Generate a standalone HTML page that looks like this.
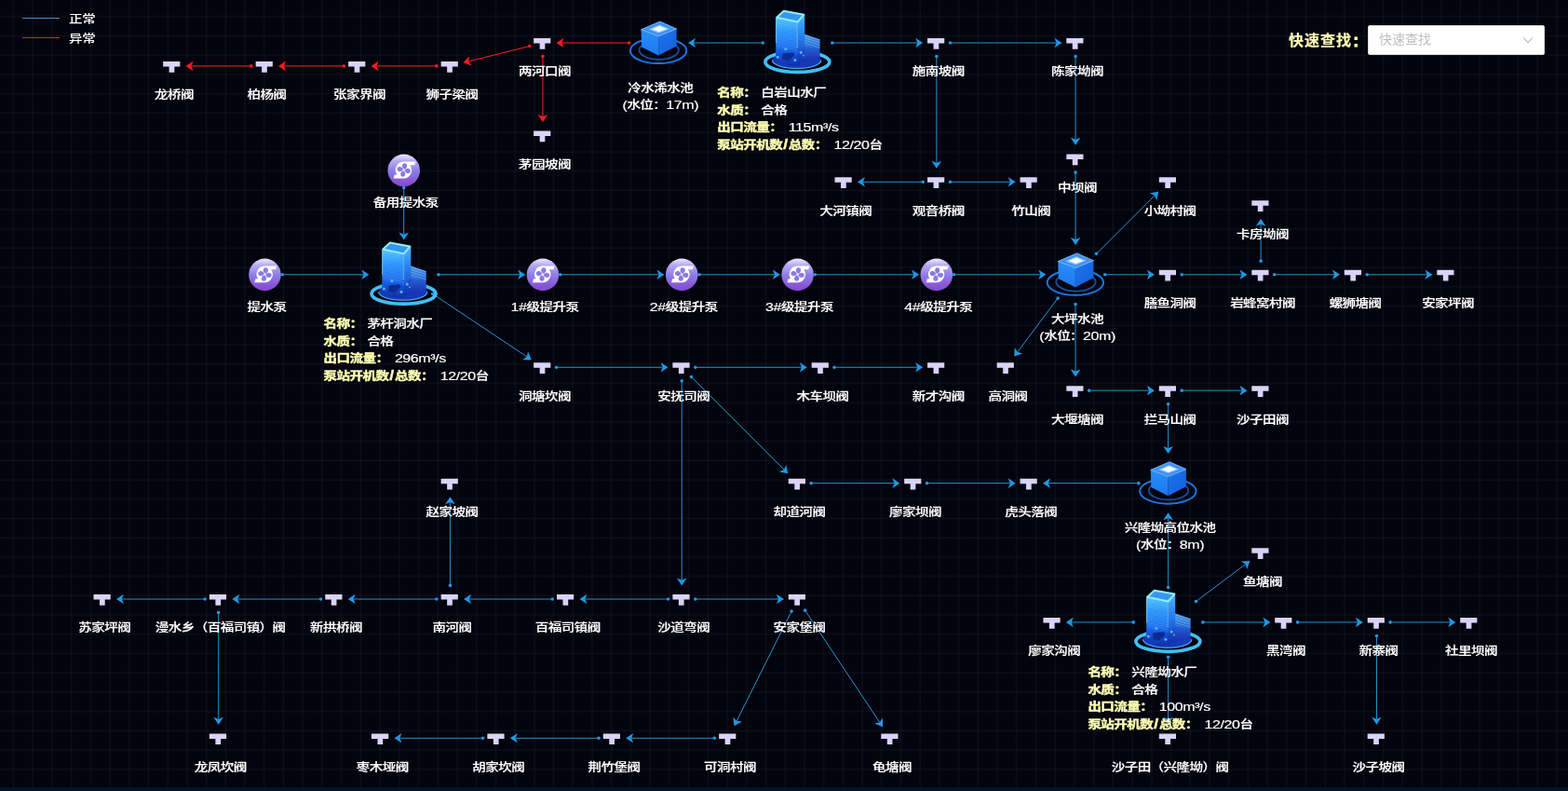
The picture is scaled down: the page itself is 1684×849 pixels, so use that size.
<!DOCTYPE html>
<html lang="zh-CN"><head><meta charset="utf-8"><title>供水管网拓扑</title>
<style>

html,body{margin:0;padding:0;}
body{width:1684px;height:849px;overflow:hidden;background:#03030d;font-family:"Liberation Sans","Noto Sans CJK SC",sans-serif;position:relative;}
#bg{position:absolute;left:0;top:0;width:1684px;height:849px;background-color:#03030d;
 background-image:linear-gradient(to right,rgba(140,185,215,0) 0,rgba(135,180,205,0.057) 1.1px,rgba(135,180,205,0.057) 1.5px,rgba(140,185,215,0) 2.6px),linear-gradient(to bottom,rgba(140,185,215,0) 0,rgba(135,180,205,0.057) 1.1px,rgba(135,180,205,0.057) 1.5px,rgba(140,185,215,0) 2.6px);
 background-size:20.73px 20.73px;background-position:13.17px 16.47px;}
#strip{position:absolute;left:0;top:845px;width:1684px;height:4px;background:#04142a;}
svg{position:absolute;left:0;top:0;}
#main,.legend,#qlabel,#qsel{will-change:transform;}
text{font-family:"Liberation Sans","Noto Sans CJK SC",sans-serif;font-size:14px;fill:#fff;font-weight:500;letter-spacing:-0.54px;stroke:#fff;stroke-width:0.2px;stroke-linejoin:round;}
.l{font-size:15.4px;letter-spacing:-0.4px;}
.s{font-size:17px;letter-spacing:0.7px;}
.k{fill:#ffffb4;font-weight:bold;stroke:#ffffb4;stroke-width:0.45px;}
.legend{position:absolute;left:24px;font-size:14px;font-weight:500;color:#fff;line-height:20px;height:20px;white-space:nowrap;}
.legend span{display:inline-block;transform:scale(1.04,0.875);transform-origin:0 58%;letter-spacing:-0.4px;}
.legend i{display:inline-block;width:40px;height:1px;vertical-align:middle;margin-right:10px;position:relative;top:-2px;}
#qlabel{position:absolute;left:1383.6px;top:28px;height:32px;line-height:31px;font-size:16px;font-weight:bold;color:#ffffb4;white-space:nowrap;letter-spacing:1px;-webkit-text-stroke:0.2px #ffffb4;}
#qsel{position:absolute;left:1469px;top:27px;width:190px;height:32px;box-sizing:border-box;background:#fff;border:1px solid #d9d9d9;border-radius:2px;font-size:14px;color:#bfbfbf;line-height:29px;padding-left:11px;white-space:nowrap;}
#qsel svg{position:absolute;left:165px;top:8.5px;}

</style></head><body>
<div id="bg"></div><div id="strip"></div>
<svg id="main" width="1684" height="849" viewBox="0 0 1684 849">
<defs>
<linearGradient id="gp" x1="0" y1="0" x2="0" y2="1">
<stop offset="0" stop-color="#eee9fd"/><stop offset="0.2" stop-color="#b9abf3"/><stop offset="0.5" stop-color="#8f7ee8"/><stop offset="0.78" stop-color="#8a5cda"/><stop offset="1" stop-color="#8248cc"/>
</linearGradient>
<linearGradient id="gt1" x1="0" y1="0" x2="0" y2="1">
<stop offset="0" stop-color="#52c2ff"/><stop offset="0.3" stop-color="#2690fc"/><stop offset="0.62" stop-color="#1a6cee"/><stop offset="0.82" stop-color="#1448cc"/><stop offset="1" stop-color="#0e30aa"/>
</linearGradient>
<linearGradient id="gt2" x1="0" y1="0" x2="0" y2="1">
<stop offset="0" stop-color="#46b4ff"/><stop offset="0.4" stop-color="#1f7cf2"/><stop offset="0.8" stop-color="#1444c8"/><stop offset="1" stop-color="#0d2ea4"/>
</linearGradient>
<linearGradient id="gt3" x1="0" y1="0" x2="0" y2="1">
<stop offset="0" stop-color="#4394ea"/><stop offset="0.45" stop-color="#2264d6"/><stop offset="1" stop-color="#1c2cae"/>
</linearGradient>
<linearGradient id="gw1" x1="0" y1="0" x2="0" y2="1">
<stop offset="0" stop-color="#2a8cf8"/><stop offset="1" stop-color="#1c7af0"/>
</linearGradient>
<linearGradient id="gw2" x1="0" y1="0" x2="1" y2="1">
<stop offset="0" stop-color="#1c74ea"/><stop offset="1" stop-color="#1560dc"/>
</linearGradient>
<pattern id="stripe" width="4" height="2.4" patternUnits="userSpaceOnUse" patternTransform="rotate(12)">
<rect x="0" y="0" width="4" height="1" fill="#9fe4ff" opacity="0.2"/>
</pattern>
<pattern id="stripe2" width="4" height="2.6" patternUnits="userSpaceOnUse" patternTransform="rotate(17)">
<rect x="0" y="0" width="4" height="1.1" fill="#b4e6ff" opacity="0.4"/>
</pattern>
</defs>
<g id="edges">
<line x1="675.62" y1="46" x2="603.54" y2="46" stroke="#ff2028" stroke-width="1" stroke-opacity="1"/>
<circle cx="675.62" cy="46" r="1.8" fill="#ff1a1e"/>
<path d="M0 0L-8 5.33L-6 0L-8 -5.33Z" fill="#ff1a1e" transform="translate(597.54 46) rotate(180)"/>
<line x1="568.78" y1="49.54" x2="503.42" y2="65.88" stroke="#ff2028" stroke-width="1" stroke-opacity="1"/>
<circle cx="568.78" cy="49.54" r="1.8" fill="#ff1a1e"/>
<path d="M0 0L-8 5.33L-6 0L-8 -5.33Z" fill="#ff1a1e" transform="translate(497.6 67.33) rotate(165.96)"/>
<line x1="468.84" y1="70.88" x2="404.54" y2="70.88" stroke="#ff2028" stroke-width="1" stroke-opacity="1"/>
<circle cx="468.84" cy="70.88" r="1.8" fill="#ff1a1e"/>
<path d="M0 0L-8 5.33L-6 0L-8 -5.33Z" fill="#ff1a1e" transform="translate(398.54 70.88) rotate(180)"/>
<line x1="369.34" y1="70.88" x2="305.03" y2="70.88" stroke="#ff2028" stroke-width="1" stroke-opacity="1"/>
<circle cx="369.34" cy="70.88" r="1.8" fill="#ff1a1e"/>
<path d="M0 0L-8 5.33L-6 0L-8 -5.33Z" fill="#ff1a1e" transform="translate(299.03 70.88) rotate(180)"/>
<line x1="269.83" y1="70.88" x2="205.53" y2="70.88" stroke="#ff2028" stroke-width="1" stroke-opacity="1"/>
<circle cx="269.83" cy="70.88" r="1.8" fill="#ff1a1e"/>
<path d="M0 0L-8 5.33L-6 0L-8 -5.33Z" fill="#ff1a1e" transform="translate(199.53 70.88) rotate(180)"/>
<line x1="582.94" y1="60.6" x2="582.94" y2="124.9" stroke="#ff2028" stroke-width="1" stroke-opacity="1"/>
<circle cx="582.94" cy="60.6" r="1.8" fill="#ff1a1e"/>
<path d="M0 0L-8 5.33L-6 0L-8 -5.33Z" fill="#ff1a1e" transform="translate(582.94 130.9) rotate(90)"/>
<line x1="819.28" y1="46" x2="745.02" y2="46" stroke="#2792d3" stroke-width="1" stroke-opacity="1"/>
<circle cx="819.28" cy="46" r="1.8" fill="#1f98e4"/>
<path d="M0 0L-8 5.33L-6 0L-8 -5.33Z" fill="#1f98e4" transform="translate(739.02 46) rotate(180)"/>
<line x1="893.88" y1="46" x2="985.24" y2="46" stroke="#2792d3" stroke-width="1" stroke-opacity="1"/>
<circle cx="893.88" cy="46" r="1.8" fill="#1f98e4"/>
<path d="M0 0L-8 5.33L-6 0L-8 -5.33Z" fill="#1f98e4" transform="translate(991.24 46) rotate(0)"/>
<line x1="1020.44" y1="46" x2="1134.49" y2="46" stroke="#2792d3" stroke-width="1" stroke-opacity="1"/>
<circle cx="1020.44" cy="46" r="1.8" fill="#1f98e4"/>
<path d="M0 0L-8 5.33L-6 0L-8 -5.33Z" fill="#1f98e4" transform="translate(1140.49 46) rotate(0)"/>
<line x1="1005.84" y1="60.6" x2="1005.84" y2="174.66" stroke="#2792d3" stroke-width="1" stroke-opacity="1"/>
<circle cx="1005.84" cy="60.6" r="1.8" fill="#1f98e4"/>
<path d="M0 0L-8 5.33L-6 0L-8 -5.33Z" fill="#1f98e4" transform="translate(1005.84 180.66) rotate(90)"/>
<line x1="991.24" y1="195.26" x2="926.93" y2="195.26" stroke="#2792d3" stroke-width="1" stroke-opacity="1"/>
<circle cx="991.24" cy="195.26" r="1.8" fill="#1f98e4"/>
<path d="M0 0L-8 5.33L-6 0L-8 -5.33Z" fill="#1f98e4" transform="translate(920.93 195.26) rotate(180)"/>
<line x1="1020.44" y1="195.26" x2="1084.74" y2="195.26" stroke="#2792d3" stroke-width="1" stroke-opacity="1"/>
<circle cx="1020.44" cy="195.26" r="1.8" fill="#1f98e4"/>
<path d="M0 0L-8 5.33L-6 0L-8 -5.33Z" fill="#1f98e4" transform="translate(1090.74 195.26) rotate(0)"/>
<line x1="1155.09" y1="60.6" x2="1155.09" y2="149.78" stroke="#2792d3" stroke-width="1" stroke-opacity="1"/>
<circle cx="1155.09" cy="60.6" r="1.8" fill="#1f98e4"/>
<path d="M0 0L-8 5.33L-6 0L-8 -5.33Z" fill="#1f98e4" transform="translate(1155.09 155.78) rotate(90)"/>
<line x1="1155.09" y1="184.98" x2="1155.09" y2="257.06" stroke="#2792d3" stroke-width="1" stroke-opacity="1"/>
<circle cx="1155.09" cy="184.98" r="1.8" fill="#1f98e4"/>
<path d="M0 0L-8 5.33L-6 0L-8 -5.33Z" fill="#1f98e4" transform="translate(1155.09 263.06) rotate(90)"/>
<line x1="433.69" y1="201.52" x2="433.69" y2="251.46" stroke="#2792d3" stroke-width="1" stroke-opacity="1"/>
<circle cx="433.69" cy="201.52" r="1.8" fill="#1f98e4"/>
<path d="M0 0L-8 5.33L-6 0L-8 -5.33Z" fill="#1f98e4" transform="translate(433.69 257.46) rotate(90)"/>
<line x1="303.13" y1="294.76" x2="390.39" y2="294.76" stroke="#2792d3" stroke-width="1" stroke-opacity="1"/>
<circle cx="303.13" cy="294.76" r="1.8" fill="#1f98e4"/>
<path d="M0 0L-8 5.33L-6 0L-8 -5.33Z" fill="#1f98e4" transform="translate(396.39 294.76) rotate(0)"/>
<line x1="470.99" y1="294.76" x2="558.24" y2="294.76" stroke="#2792d3" stroke-width="1" stroke-opacity="1"/>
<circle cx="470.99" cy="294.76" r="1.8" fill="#1f98e4"/>
<path d="M0 0L-8 5.33L-6 0L-8 -5.33Z" fill="#1f98e4" transform="translate(564.24 294.76) rotate(0)"/>
<line x1="601.64" y1="294.76" x2="707.5" y2="294.76" stroke="#2792d3" stroke-width="1" stroke-opacity="1"/>
<circle cx="601.64" cy="294.76" r="1.8" fill="#1f98e4"/>
<path d="M0 0L-8 5.33L-6 0L-8 -5.33Z" fill="#1f98e4" transform="translate(713.5 294.76) rotate(0)"/>
<line x1="750.9" y1="294.76" x2="831.88" y2="294.76" stroke="#2792d3" stroke-width="1" stroke-opacity="1"/>
<circle cx="750.9" cy="294.76" r="1.8" fill="#1f98e4"/>
<path d="M0 0L-8 5.33L-6 0L-8 -5.33Z" fill="#1f98e4" transform="translate(837.88 294.76) rotate(0)"/>
<line x1="875.28" y1="294.76" x2="981.14" y2="294.76" stroke="#2792d3" stroke-width="1" stroke-opacity="1"/>
<circle cx="875.28" cy="294.76" r="1.8" fill="#1f98e4"/>
<path d="M0 0L-8 5.33L-6 0L-8 -5.33Z" fill="#1f98e4" transform="translate(987.14 294.76) rotate(0)"/>
<line x1="1024.54" y1="294.76" x2="1117.39" y2="294.76" stroke="#2792d3" stroke-width="1" stroke-opacity="1"/>
<circle cx="1024.54" cy="294.76" r="1.8" fill="#1f98e4"/>
<path d="M0 0L-8 5.33L-6 0L-8 -5.33Z" fill="#1f98e4" transform="translate(1123.39 294.76) rotate(0)"/>
<line x1="464.72" y1="315.45" x2="565.8" y2="382.84" stroke="#2792d3" stroke-width="1" stroke-opacity="1"/>
<circle cx="464.72" cy="315.45" r="1.8" fill="#1f98e4"/>
<path d="M0 0L-8 5.33L-6 0L-8 -5.33Z" fill="#1f98e4" transform="translate(570.8 386.17) rotate(33.69)"/>
<line x1="597.54" y1="394.26" x2="711.6" y2="394.26" stroke="#2792d3" stroke-width="1" stroke-opacity="1"/>
<circle cx="597.54" cy="394.26" r="1.8" fill="#1f98e4"/>
<path d="M0 0L-8 5.33L-6 0L-8 -5.33Z" fill="#1f98e4" transform="translate(717.6 394.26) rotate(0)"/>
<line x1="746.8" y1="394.26" x2="860.86" y2="394.26" stroke="#2792d3" stroke-width="1" stroke-opacity="1"/>
<circle cx="746.8" cy="394.26" r="1.8" fill="#1f98e4"/>
<path d="M0 0L-8 5.33L-6 0L-8 -5.33Z" fill="#1f98e4" transform="translate(866.86 394.26) rotate(0)"/>
<line x1="896.06" y1="394.26" x2="985.24" y2="394.26" stroke="#2792d3" stroke-width="1" stroke-opacity="1"/>
<circle cx="896.06" cy="394.26" r="1.8" fill="#1f98e4"/>
<path d="M0 0L-8 5.33L-6 0L-8 -5.33Z" fill="#1f98e4" transform="translate(991.24 394.26) rotate(0)"/>
<line x1="732.2" y1="408.86" x2="732.2" y2="622.42" stroke="#2792d3" stroke-width="1" stroke-opacity="1"/>
<circle cx="732.2" cy="408.86" r="1.8" fill="#1f98e4"/>
<path d="M0 0L-8 5.33L-6 0L-8 -5.33Z" fill="#1f98e4" transform="translate(732.2 628.42) rotate(90)"/>
<line x1="742.52" y1="404.59" x2="842.01" y2="504.08" stroke="#2792d3" stroke-width="1" stroke-opacity="1"/>
<circle cx="742.52" cy="404.59" r="1.8" fill="#1f98e4"/>
<path d="M0 0L-8 5.33L-6 0L-8 -5.33Z" fill="#1f98e4" transform="translate(846.26 508.32) rotate(45)"/>
<line x1="871.18" y1="518.64" x2="960.36" y2="518.64" stroke="#2792d3" stroke-width="1" stroke-opacity="1"/>
<circle cx="871.18" cy="518.64" r="1.8" fill="#1f98e4"/>
<path d="M0 0L-8 5.33L-6 0L-8 -5.33Z" fill="#1f98e4" transform="translate(966.36 518.64) rotate(0)"/>
<line x1="995.56" y1="518.64" x2="1084.74" y2="518.64" stroke="#2792d3" stroke-width="1" stroke-opacity="1"/>
<circle cx="995.56" cy="518.64" r="1.8" fill="#1f98e4"/>
<path d="M0 0L-8 5.33L-6 0L-8 -5.33Z" fill="#1f98e4" transform="translate(1090.74 518.64) rotate(0)"/>
<line x1="1222.9" y1="518.64" x2="1125.94" y2="518.64" stroke="#2792d3" stroke-width="1" stroke-opacity="1"/>
<circle cx="1222.9" cy="518.64" r="1.8" fill="#1f98e4"/>
<path d="M0 0L-8 5.33L-6 0L-8 -5.33Z" fill="#1f98e4" transform="translate(1119.94 518.64) rotate(180)"/>
<line x1="1177.51" y1="272.34" x2="1240.03" y2="209.82" stroke="#2792d3" stroke-width="1" stroke-opacity="1"/>
<circle cx="1177.51" cy="272.34" r="1.8" fill="#1f98e4"/>
<path d="M0 0L-8 5.33L-6 0L-8 -5.33Z" fill="#1f98e4" transform="translate(1244.27 205.58) rotate(-45)"/>
<line x1="1186.79" y1="294.76" x2="1234" y2="294.76" stroke="#2792d3" stroke-width="1" stroke-opacity="1"/>
<circle cx="1186.79" cy="294.76" r="1.8" fill="#1f98e4"/>
<path d="M0 0L-8 5.33L-6 0L-8 -5.33Z" fill="#1f98e4" transform="translate(1240 294.76) rotate(0)"/>
<line x1="1269.2" y1="294.76" x2="1333.5" y2="294.76" stroke="#2792d3" stroke-width="1" stroke-opacity="1"/>
<circle cx="1269.2" cy="294.76" r="1.8" fill="#1f98e4"/>
<path d="M0 0L-8 5.33L-6 0L-8 -5.33Z" fill="#1f98e4" transform="translate(1339.5 294.76) rotate(0)"/>
<line x1="1354.1" y1="280.16" x2="1354.1" y2="240.73" stroke="#2792d3" stroke-width="1" stroke-opacity="1"/>
<circle cx="1354.1" cy="280.16" r="1.8" fill="#1f98e4"/>
<path d="M0 0L-8 5.33L-6 0L-8 -5.33Z" fill="#1f98e4" transform="translate(1354.1 234.73) rotate(-90)"/>
<line x1="1368.7" y1="294.76" x2="1433" y2="294.76" stroke="#2792d3" stroke-width="1" stroke-opacity="1"/>
<circle cx="1368.7" cy="294.76" r="1.8" fill="#1f98e4"/>
<path d="M0 0L-8 5.33L-6 0L-8 -5.33Z" fill="#1f98e4" transform="translate(1439 294.76) rotate(0)"/>
<line x1="1468.2" y1="294.76" x2="1532.51" y2="294.76" stroke="#2792d3" stroke-width="1" stroke-opacity="1"/>
<circle cx="1468.2" cy="294.76" r="1.8" fill="#1f98e4"/>
<path d="M0 0L-8 5.33L-6 0L-8 -5.33Z" fill="#1f98e4" transform="translate(1538.51 294.76) rotate(0)"/>
<line x1="1136.07" y1="320.12" x2="1092.82" y2="377.78" stroke="#2792d3" stroke-width="1" stroke-opacity="1"/>
<circle cx="1136.07" cy="320.12" r="1.8" fill="#1f98e4"/>
<path d="M0 0L-8 5.33L-6 0L-8 -5.33Z" fill="#1f98e4" transform="translate(1089.22 382.58) rotate(126.87)"/>
<line x1="1155.09" y1="326.46" x2="1155.09" y2="398.54" stroke="#2792d3" stroke-width="1" stroke-opacity="1"/>
<circle cx="1155.09" cy="326.46" r="1.8" fill="#1f98e4"/>
<path d="M0 0L-8 5.33L-6 0L-8 -5.33Z" fill="#1f98e4" transform="translate(1155.09 404.54) rotate(90)"/>
<line x1="1169.69" y1="419.14" x2="1234" y2="419.14" stroke="#2792d3" stroke-width="1" stroke-opacity="1"/>
<circle cx="1169.69" cy="419.14" r="1.8" fill="#1f98e4"/>
<path d="M0 0L-8 5.33L-6 0L-8 -5.33Z" fill="#1f98e4" transform="translate(1240 419.14) rotate(0)"/>
<line x1="1269.2" y1="419.14" x2="1333.5" y2="419.14" stroke="#2792d3" stroke-width="1" stroke-opacity="1"/>
<circle cx="1269.2" cy="419.14" r="1.8" fill="#1f98e4"/>
<path d="M0 0L-8 5.33L-6 0L-8 -5.33Z" fill="#1f98e4" transform="translate(1339.5 419.14) rotate(0)"/>
<line x1="1254.6" y1="433.74" x2="1254.6" y2="480.94" stroke="#2792d3" stroke-width="1" stroke-opacity="1"/>
<circle cx="1254.6" cy="433.74" r="1.8" fill="#1f98e4"/>
<path d="M0 0L-8 5.33L-6 0L-8 -5.33Z" fill="#1f98e4" transform="translate(1254.6 486.94) rotate(90)"/>
<line x1="1254.6" y1="630.6" x2="1254.6" y2="556.34" stroke="#2792d3" stroke-width="1" stroke-opacity="1"/>
<circle cx="1254.6" cy="630.6" r="1.8" fill="#1f98e4"/>
<path d="M0 0L-8 5.33L-6 0L-8 -5.33Z" fill="#1f98e4" transform="translate(1254.6 550.34) rotate(-90)"/>
<line x1="1284.44" y1="645.52" x2="1337.62" y2="605.63" stroke="#2792d3" stroke-width="1" stroke-opacity="1"/>
<circle cx="1284.44" cy="645.52" r="1.8" fill="#1f98e4"/>
<path d="M0 0L-8 5.33L-6 0L-8 -5.33Z" fill="#1f98e4" transform="translate(1342.42 602.03) rotate(-36.87)"/>
<line x1="1217.3" y1="667.9" x2="1150.82" y2="667.9" stroke="#2792d3" stroke-width="1" stroke-opacity="1"/>
<circle cx="1217.3" cy="667.9" r="1.8" fill="#1f98e4"/>
<path d="M0 0L-8 5.33L-6 0L-8 -5.33Z" fill="#1f98e4" transform="translate(1144.82 667.9) rotate(180)"/>
<line x1="1291.9" y1="667.9" x2="1358.38" y2="667.9" stroke="#2792d3" stroke-width="1" stroke-opacity="1"/>
<circle cx="1291.9" cy="667.9" r="1.8" fill="#1f98e4"/>
<path d="M0 0L-8 5.33L-6 0L-8 -5.33Z" fill="#1f98e4" transform="translate(1364.38 667.9) rotate(0)"/>
<line x1="1393.58" y1="667.9" x2="1457.88" y2="667.9" stroke="#2792d3" stroke-width="1" stroke-opacity="1"/>
<circle cx="1393.58" cy="667.9" r="1.8" fill="#1f98e4"/>
<path d="M0 0L-8 5.33L-6 0L-8 -5.33Z" fill="#1f98e4" transform="translate(1463.88 667.9) rotate(0)"/>
<line x1="1493.08" y1="667.9" x2="1557.38" y2="667.9" stroke="#2792d3" stroke-width="1" stroke-opacity="1"/>
<circle cx="1493.08" cy="667.9" r="1.8" fill="#1f98e4"/>
<path d="M0 0L-8 5.33L-6 0L-8 -5.33Z" fill="#1f98e4" transform="translate(1563.38 667.9) rotate(0)"/>
<line x1="1478.48" y1="682.5" x2="1478.48" y2="771.68" stroke="#2792d3" stroke-width="1" stroke-opacity="1"/>
<circle cx="1478.48" cy="682.5" r="1.8" fill="#1f98e4"/>
<path d="M0 0L-8 5.33L-6 0L-8 -5.33Z" fill="#1f98e4" transform="translate(1478.48 777.68) rotate(90)"/>
<line x1="1254.6" y1="705.2" x2="1254.6" y2="771.68" stroke="#2792d3" stroke-width="1" stroke-opacity="1"/>
<circle cx="1254.6" cy="705.2" r="1.8" fill="#1f98e4"/>
<path d="M0 0L-8 5.33L-6 0L-8 -5.33Z" fill="#1f98e4" transform="translate(1254.6 777.68) rotate(90)"/>
<line x1="717.6" y1="643.02" x2="628.42" y2="643.02" stroke="#2792d3" stroke-width="1" stroke-opacity="1"/>
<circle cx="717.6" cy="643.02" r="1.8" fill="#1f98e4"/>
<path d="M0 0L-8 5.33L-6 0L-8 -5.33Z" fill="#1f98e4" transform="translate(622.42 643.02) rotate(180)"/>
<line x1="593.22" y1="643.02" x2="504.04" y2="643.02" stroke="#2792d3" stroke-width="1" stroke-opacity="1"/>
<circle cx="593.22" cy="643.02" r="1.8" fill="#1f98e4"/>
<path d="M0 0L-8 5.33L-6 0L-8 -5.33Z" fill="#1f98e4" transform="translate(498.04 643.02) rotate(180)"/>
<line x1="468.84" y1="643.02" x2="379.66" y2="643.02" stroke="#2792d3" stroke-width="1" stroke-opacity="1"/>
<circle cx="468.84" cy="643.02" r="1.8" fill="#1f98e4"/>
<path d="M0 0L-8 5.33L-6 0L-8 -5.33Z" fill="#1f98e4" transform="translate(373.66 643.02) rotate(180)"/>
<line x1="344.46" y1="643.02" x2="255.28" y2="643.02" stroke="#2792d3" stroke-width="1" stroke-opacity="1"/>
<circle cx="344.46" cy="643.02" r="1.8" fill="#1f98e4"/>
<path d="M0 0L-8 5.33L-6 0L-8 -5.33Z" fill="#1f98e4" transform="translate(249.28 643.02) rotate(180)"/>
<line x1="220.08" y1="643.02" x2="130.9" y2="643.02" stroke="#2792d3" stroke-width="1" stroke-opacity="1"/>
<circle cx="220.08" cy="643.02" r="1.8" fill="#1f98e4"/>
<path d="M0 0L-8 5.33L-6 0L-8 -5.33Z" fill="#1f98e4" transform="translate(124.9 643.02) rotate(180)"/>
<line x1="234.68" y1="657.62" x2="234.68" y2="771.68" stroke="#2792d3" stroke-width="1" stroke-opacity="1"/>
<circle cx="234.68" cy="657.62" r="1.8" fill="#1f98e4"/>
<path d="M0 0L-8 5.33L-6 0L-8 -5.33Z" fill="#1f98e4" transform="translate(234.68 777.68) rotate(90)"/>
<line x1="483.44" y1="628.42" x2="483.44" y2="539.24" stroke="#2792d3" stroke-width="1" stroke-opacity="1"/>
<circle cx="483.44" cy="628.42" r="1.8" fill="#1f98e4"/>
<path d="M0 0L-8 5.33L-6 0L-8 -5.33Z" fill="#1f98e4" transform="translate(483.44 533.24) rotate(-90)"/>
<line x1="746.8" y1="643.02" x2="835.98" y2="643.02" stroke="#2792d3" stroke-width="1" stroke-opacity="1"/>
<circle cx="746.8" cy="643.02" r="1.8" fill="#1f98e4"/>
<path d="M0 0L-8 5.33L-6 0L-8 -5.33Z" fill="#1f98e4" transform="translate(841.98 643.02) rotate(0)"/>
<line x1="850.05" y1="656.08" x2="791.16" y2="773.85" stroke="#2792d3" stroke-width="1" stroke-opacity="1"/>
<circle cx="850.05" cy="656.08" r="1.8" fill="#1f98e4"/>
<path d="M0 0L-8 5.33L-6 0L-8 -5.33Z" fill="#1f98e4" transform="translate(788.48 779.22) rotate(116.57)"/>
<line x1="864.68" y1="655.17" x2="944.66" y2="775.14" stroke="#2792d3" stroke-width="1" stroke-opacity="1"/>
<circle cx="864.68" cy="655.17" r="1.8" fill="#1f98e4"/>
<path d="M0 0L-8 5.33L-6 0L-8 -5.33Z" fill="#1f98e4" transform="translate(947.99 780.13) rotate(56.31)"/>
<line x1="767.35" y1="792.28" x2="678.17" y2="792.28" stroke="#2792d3" stroke-width="1" stroke-opacity="1"/>
<circle cx="767.35" cy="792.28" r="1.8" fill="#1f98e4"/>
<path d="M0 0L-8 5.33L-6 0L-8 -5.33Z" fill="#1f98e4" transform="translate(672.17 792.28) rotate(180)"/>
<line x1="642.97" y1="792.28" x2="553.79" y2="792.28" stroke="#2792d3" stroke-width="1" stroke-opacity="1"/>
<circle cx="642.97" cy="792.28" r="1.8" fill="#1f98e4"/>
<path d="M0 0L-8 5.33L-6 0L-8 -5.33Z" fill="#1f98e4" transform="translate(547.79 792.28) rotate(180)"/>
<line x1="518.59" y1="792.28" x2="429.41" y2="792.28" stroke="#2792d3" stroke-width="1" stroke-opacity="1"/>
<circle cx="518.59" cy="792.28" r="1.8" fill="#1f98e4"/>
<path d="M0 0L-8 5.33L-6 0L-8 -5.33Z" fill="#1f98e4" transform="translate(423.41 792.28) rotate(180)"/>
</g>
<g id="nodes">
<g class="n-v" transform="translate(582.94 46)"><path d="M-9.8 -4.9H8.4V0.6H2.4V6.8H-3.3V0.6H-9.8Z" fill="#d9d3f8"/></g>
<g class="n-w" transform="translate(707.32 46)"><ellipse cx="-0.2" cy="8.5" rx="30.2" ry="13.5" fill="none" stroke="#1b78e2" stroke-width="2"/><ellipse cx="0.4" cy="7.8" rx="21.2" ry="10" fill="none" stroke="#164f9e" stroke-width="1.8"/><path d="M-18.8 -14.2L-0.2 -7.1L-0.2 13.5L-18.3 4.4Z" fill="url(#gw1)"/><path d="M-0.2 -7.1L19.3 -15L19.3 3.6L-0.2 13.5Z" fill="url(#gw2)"/><path d="M1.4 -22.9L19.3 -15L-0.2 -7.1L-18.8 -14.2Z" fill="#3f92f6" stroke="#7fbcff" stroke-width="0.9" stroke-linejoin="round"/><path d="M1 -19.6L11.6 -15L0.2 -10.6L-10.6 -14.6Z" fill="#8fc6ff"/><path d="M0.9 -18.3L8.6 -15L0.4 -11.8L-7.4 -14.7Z" fill="#f2fcff"/></g>
<g class="n-f" transform="translate(856.58 46)"><ellipse cx="-0.9" cy="18.4" rx="26.2" ry="9" fill="#1239b6"/><path d="M-27.1 18.4A26.2 9 0 0 0 25.3 18.4" fill="none" stroke="#4aa2f0" stroke-width="1.3"/><ellipse cx="-0.2" cy="20.5" rx="34.5" ry="10.9" fill="none" stroke="#42bef5" stroke-width="3.7"/><path d="M7.4 -9.6L24 -3.8V16L7.4 20.5Z" fill="url(#gt3)"/><path d="M7.4 -9.6L24 -3.8V7L7.4 3Z" fill="url(#stripe2)"/><path d="M-23.4 -27L0 -22.2V24L-10 24.5L-23.4 17Z" fill="url(#gt1)"/><path d="M0 -22.2L7.6 -30.2V19L0 24Z" fill="url(#gt2)"/><path d="M-23.4 -27L0 -22.2V10L-23.4 5Z" fill="url(#stripe)"/><path d="M0 -22.2L7.6 -30.2V4L0 10Z" fill="url(#stripe)" opacity="0.7"/><path d="M-22.4 -27.2L-14.8 -34.2L6.8 -30.3L0 -22.4Z" fill="#3597f2" stroke="#92ecff" stroke-width="2" stroke-linejoin="round"/><path d="M-23 -27V0" stroke="#7fe0ff" stroke-width="1" opacity="0.75" fill="none"/><path d="M-0.2 -22V6" stroke="#7fd8ff" stroke-width="1.4" opacity="0.5" fill="none"/><path d="M-16 11.5L-4.8 10.4L-3.2 13.1L-9.6 19.4L-16.5 17.8Z" fill="#0d2a8e"/><circle cx="-12.8" cy="6.7" r="1.5" fill="#5fb0ff"/><circle cx="-21.3" cy="15.2" r="1.5" fill="#5fb0ff"/><circle cx="-2.7" cy="18.4" r="1.5" fill="#5fb0ff"/><circle cx="3.6" cy="10.2" r="1.5" fill="#5fb0ff"/><circle cx="6.3" cy="13.6" r="0.9" fill="#8fc44a"/></g>
<g class="n-v" transform="translate(1005.84 46)"><path d="M-9.8 -4.9H8.4V0.6H2.4V6.8H-3.3V0.6H-9.8Z" fill="#d9d3f8"/></g>
<g class="n-v" transform="translate(1155.09 46)"><path d="M-9.8 -4.9H8.4V0.6H2.4V6.8H-3.3V0.6H-9.8Z" fill="#d9d3f8"/></g>
<g class="n-v" transform="translate(184.93 70.88)"><path d="M-9.8 -4.9H8.4V0.6H2.4V6.8H-3.3V0.6H-9.8Z" fill="#d9d3f8"/></g>
<g class="n-v" transform="translate(284.43 70.88)"><path d="M-9.8 -4.9H8.4V0.6H2.4V6.8H-3.3V0.6H-9.8Z" fill="#d9d3f8"/></g>
<g class="n-v" transform="translate(383.94 70.88)"><path d="M-9.8 -4.9H8.4V0.6H2.4V6.8H-3.3V0.6H-9.8Z" fill="#d9d3f8"/></g>
<g class="n-v" transform="translate(483.44 70.88)"><path d="M-9.8 -4.9H8.4V0.6H2.4V6.8H-3.3V0.6H-9.8Z" fill="#d9d3f8"/></g>
<g class="n-v" transform="translate(582.94 145.5)"><path d="M-9.8 -4.9H8.4V0.6H2.4V6.8H-3.3V0.6H-9.8Z" fill="#d9d3f8"/></g>
<g class="n-v" transform="translate(1155.09 170.38)"><path d="M-9.8 -4.9H8.4V0.6H2.4V6.8H-3.3V0.6H-9.8Z" fill="#d9d3f8"/></g>
<g class="n-p" transform="translate(433.69 182.82)"><circle cx="0" cy="0.1" r="17.3" fill="url(#gp)"/><path d="M-0.4 -9.2H12.7L11.6 -5.6H6.6A8.9 8.9 0 0 1 0.4 8.6H-11.1L-10 4.6H-7.4A8.9 8.9 0 0 1 -0.4 -9.2Z" fill="#fff"/><g fill="#8b78e6"><path d="M0.5 -1C-1.8 -2.6 -2.6 -5.4 -0.6 -7C1.6 -8.4 4.2 -6.6 3.4 -3.8C3 -2.4 1.8 -1.4 0.5 -1Z"/><path d="M0.5 -1C-1.8 -2.6 -2.6 -5.4 -0.6 -7C1.6 -8.4 4.2 -6.6 3.4 -3.8C3 -2.4 1.8 -1.4 0.5 -1Z" transform="rotate(90 0 -0.3)"/><path d="M0.5 -1C-1.8 -2.6 -2.6 -5.4 -0.6 -7C1.6 -8.4 4.2 -6.6 3.4 -3.8C3 -2.4 1.8 -1.4 0.5 -1Z" transform="rotate(180 0 -0.3)"/><path d="M0.5 -1C-1.8 -2.6 -2.6 -5.4 -0.6 -7C1.6 -8.4 4.2 -6.6 3.4 -3.8C3 -2.4 1.8 -1.4 0.5 -1Z" transform="rotate(270 0 -0.3)"/></g></g>
<g class="n-v" transform="translate(906.33 195.26)"><path d="M-9.8 -4.9H8.4V0.6H2.4V6.8H-3.3V0.6H-9.8Z" fill="#d9d3f8"/></g>
<g class="n-v" transform="translate(1005.84 195.26)"><path d="M-9.8 -4.9H8.4V0.6H2.4V6.8H-3.3V0.6H-9.8Z" fill="#d9d3f8"/></g>
<g class="n-v" transform="translate(1105.34 195.26)"><path d="M-9.8 -4.9H8.4V0.6H2.4V6.8H-3.3V0.6H-9.8Z" fill="#d9d3f8"/></g>
<g class="n-v" transform="translate(1254.6 195.26)"><path d="M-9.8 -4.9H8.4V0.6H2.4V6.8H-3.3V0.6H-9.8Z" fill="#d9d3f8"/></g>
<g class="n-v" transform="translate(1354.1 220.13)"><path d="M-9.8 -4.9H8.4V0.6H2.4V6.8H-3.3V0.6H-9.8Z" fill="#d9d3f8"/></g>
<g class="n-p" transform="translate(284.43 294.76)"><circle cx="0" cy="0.1" r="17.3" fill="url(#gp)"/><path d="M-0.4 -9.2H12.7L11.6 -5.6H6.6A8.9 8.9 0 0 1 0.4 8.6H-11.1L-10 4.6H-7.4A8.9 8.9 0 0 1 -0.4 -9.2Z" fill="#fff"/><g fill="#8b78e6"><path d="M0.5 -1C-1.8 -2.6 -2.6 -5.4 -0.6 -7C1.6 -8.4 4.2 -6.6 3.4 -3.8C3 -2.4 1.8 -1.4 0.5 -1Z"/><path d="M0.5 -1C-1.8 -2.6 -2.6 -5.4 -0.6 -7C1.6 -8.4 4.2 -6.6 3.4 -3.8C3 -2.4 1.8 -1.4 0.5 -1Z" transform="rotate(90 0 -0.3)"/><path d="M0.5 -1C-1.8 -2.6 -2.6 -5.4 -0.6 -7C1.6 -8.4 4.2 -6.6 3.4 -3.8C3 -2.4 1.8 -1.4 0.5 -1Z" transform="rotate(180 0 -0.3)"/><path d="M0.5 -1C-1.8 -2.6 -2.6 -5.4 -0.6 -7C1.6 -8.4 4.2 -6.6 3.4 -3.8C3 -2.4 1.8 -1.4 0.5 -1Z" transform="rotate(270 0 -0.3)"/></g></g>
<g class="n-f" transform="translate(433.69 294.76)"><ellipse cx="-0.9" cy="18.4" rx="26.2" ry="9" fill="#1239b6"/><path d="M-27.1 18.4A26.2 9 0 0 0 25.3 18.4" fill="none" stroke="#4aa2f0" stroke-width="1.3"/><ellipse cx="-0.2" cy="20.5" rx="34.5" ry="10.9" fill="none" stroke="#42bef5" stroke-width="3.7"/><path d="M7.4 -9.6L24 -3.8V16L7.4 20.5Z" fill="url(#gt3)"/><path d="M7.4 -9.6L24 -3.8V7L7.4 3Z" fill="url(#stripe2)"/><path d="M-23.4 -27L0 -22.2V24L-10 24.5L-23.4 17Z" fill="url(#gt1)"/><path d="M0 -22.2L7.6 -30.2V19L0 24Z" fill="url(#gt2)"/><path d="M-23.4 -27L0 -22.2V10L-23.4 5Z" fill="url(#stripe)"/><path d="M0 -22.2L7.6 -30.2V4L0 10Z" fill="url(#stripe)" opacity="0.7"/><path d="M-22.4 -27.2L-14.8 -34.2L6.8 -30.3L0 -22.4Z" fill="#3597f2" stroke="#92ecff" stroke-width="2" stroke-linejoin="round"/><path d="M-23 -27V0" stroke="#7fe0ff" stroke-width="1" opacity="0.75" fill="none"/><path d="M-0.2 -22V6" stroke="#7fd8ff" stroke-width="1.4" opacity="0.5" fill="none"/><path d="M-16 11.5L-4.8 10.4L-3.2 13.1L-9.6 19.4L-16.5 17.8Z" fill="#0d2a8e"/><circle cx="-12.8" cy="6.7" r="1.5" fill="#5fb0ff"/><circle cx="-21.3" cy="15.2" r="1.5" fill="#5fb0ff"/><circle cx="-2.7" cy="18.4" r="1.5" fill="#5fb0ff"/><circle cx="3.6" cy="10.2" r="1.5" fill="#5fb0ff"/><circle cx="6.3" cy="13.6" r="0.9" fill="#8fc44a"/></g>
<g class="n-p" transform="translate(582.94 294.76)"><circle cx="0" cy="0.1" r="17.3" fill="url(#gp)"/><path d="M-0.4 -9.2H12.7L11.6 -5.6H6.6A8.9 8.9 0 0 1 0.4 8.6H-11.1L-10 4.6H-7.4A8.9 8.9 0 0 1 -0.4 -9.2Z" fill="#fff"/><g fill="#8b78e6"><path d="M0.5 -1C-1.8 -2.6 -2.6 -5.4 -0.6 -7C1.6 -8.4 4.2 -6.6 3.4 -3.8C3 -2.4 1.8 -1.4 0.5 -1Z"/><path d="M0.5 -1C-1.8 -2.6 -2.6 -5.4 -0.6 -7C1.6 -8.4 4.2 -6.6 3.4 -3.8C3 -2.4 1.8 -1.4 0.5 -1Z" transform="rotate(90 0 -0.3)"/><path d="M0.5 -1C-1.8 -2.6 -2.6 -5.4 -0.6 -7C1.6 -8.4 4.2 -6.6 3.4 -3.8C3 -2.4 1.8 -1.4 0.5 -1Z" transform="rotate(180 0 -0.3)"/><path d="M0.5 -1C-1.8 -2.6 -2.6 -5.4 -0.6 -7C1.6 -8.4 4.2 -6.6 3.4 -3.8C3 -2.4 1.8 -1.4 0.5 -1Z" transform="rotate(270 0 -0.3)"/></g></g>
<g class="n-p" transform="translate(732.2 294.76)"><circle cx="0" cy="0.1" r="17.3" fill="url(#gp)"/><path d="M-0.4 -9.2H12.7L11.6 -5.6H6.6A8.9 8.9 0 0 1 0.4 8.6H-11.1L-10 4.6H-7.4A8.9 8.9 0 0 1 -0.4 -9.2Z" fill="#fff"/><g fill="#8b78e6"><path d="M0.5 -1C-1.8 -2.6 -2.6 -5.4 -0.6 -7C1.6 -8.4 4.2 -6.6 3.4 -3.8C3 -2.4 1.8 -1.4 0.5 -1Z"/><path d="M0.5 -1C-1.8 -2.6 -2.6 -5.4 -0.6 -7C1.6 -8.4 4.2 -6.6 3.4 -3.8C3 -2.4 1.8 -1.4 0.5 -1Z" transform="rotate(90 0 -0.3)"/><path d="M0.5 -1C-1.8 -2.6 -2.6 -5.4 -0.6 -7C1.6 -8.4 4.2 -6.6 3.4 -3.8C3 -2.4 1.8 -1.4 0.5 -1Z" transform="rotate(180 0 -0.3)"/><path d="M0.5 -1C-1.8 -2.6 -2.6 -5.4 -0.6 -7C1.6 -8.4 4.2 -6.6 3.4 -3.8C3 -2.4 1.8 -1.4 0.5 -1Z" transform="rotate(270 0 -0.3)"/></g></g>
<g class="n-p" transform="translate(856.58 294.76)"><circle cx="0" cy="0.1" r="17.3" fill="url(#gp)"/><path d="M-0.4 -9.2H12.7L11.6 -5.6H6.6A8.9 8.9 0 0 1 0.4 8.6H-11.1L-10 4.6H-7.4A8.9 8.9 0 0 1 -0.4 -9.2Z" fill="#fff"/><g fill="#8b78e6"><path d="M0.5 -1C-1.8 -2.6 -2.6 -5.4 -0.6 -7C1.6 -8.4 4.2 -6.6 3.4 -3.8C3 -2.4 1.8 -1.4 0.5 -1Z"/><path d="M0.5 -1C-1.8 -2.6 -2.6 -5.4 -0.6 -7C1.6 -8.4 4.2 -6.6 3.4 -3.8C3 -2.4 1.8 -1.4 0.5 -1Z" transform="rotate(90 0 -0.3)"/><path d="M0.5 -1C-1.8 -2.6 -2.6 -5.4 -0.6 -7C1.6 -8.4 4.2 -6.6 3.4 -3.8C3 -2.4 1.8 -1.4 0.5 -1Z" transform="rotate(180 0 -0.3)"/><path d="M0.5 -1C-1.8 -2.6 -2.6 -5.4 -0.6 -7C1.6 -8.4 4.2 -6.6 3.4 -3.8C3 -2.4 1.8 -1.4 0.5 -1Z" transform="rotate(270 0 -0.3)"/></g></g>
<g class="n-p" transform="translate(1005.84 294.76)"><circle cx="0" cy="0.1" r="17.3" fill="url(#gp)"/><path d="M-0.4 -9.2H12.7L11.6 -5.6H6.6A8.9 8.9 0 0 1 0.4 8.6H-11.1L-10 4.6H-7.4A8.9 8.9 0 0 1 -0.4 -9.2Z" fill="#fff"/><g fill="#8b78e6"><path d="M0.5 -1C-1.8 -2.6 -2.6 -5.4 -0.6 -7C1.6 -8.4 4.2 -6.6 3.4 -3.8C3 -2.4 1.8 -1.4 0.5 -1Z"/><path d="M0.5 -1C-1.8 -2.6 -2.6 -5.4 -0.6 -7C1.6 -8.4 4.2 -6.6 3.4 -3.8C3 -2.4 1.8 -1.4 0.5 -1Z" transform="rotate(90 0 -0.3)"/><path d="M0.5 -1C-1.8 -2.6 -2.6 -5.4 -0.6 -7C1.6 -8.4 4.2 -6.6 3.4 -3.8C3 -2.4 1.8 -1.4 0.5 -1Z" transform="rotate(180 0 -0.3)"/><path d="M0.5 -1C-1.8 -2.6 -2.6 -5.4 -0.6 -7C1.6 -8.4 4.2 -6.6 3.4 -3.8C3 -2.4 1.8 -1.4 0.5 -1Z" transform="rotate(270 0 -0.3)"/></g></g>
<g class="n-w" transform="translate(1155.09 294.76)"><ellipse cx="-0.2" cy="8.5" rx="30.2" ry="13.5" fill="none" stroke="#1b78e2" stroke-width="2"/><ellipse cx="0.4" cy="7.8" rx="21.2" ry="10" fill="none" stroke="#164f9e" stroke-width="1.8"/><path d="M-18.8 -14.2L-0.2 -7.1L-0.2 13.5L-18.3 4.4Z" fill="url(#gw1)"/><path d="M-0.2 -7.1L19.3 -15L19.3 3.6L-0.2 13.5Z" fill="url(#gw2)"/><path d="M1.4 -22.9L19.3 -15L-0.2 -7.1L-18.8 -14.2Z" fill="#3f92f6" stroke="#7fbcff" stroke-width="0.9" stroke-linejoin="round"/><path d="M1 -19.6L11.6 -15L0.2 -10.6L-10.6 -14.6Z" fill="#8fc6ff"/><path d="M0.9 -18.3L8.6 -15L0.4 -11.8L-7.4 -14.7Z" fill="#f2fcff"/></g>
<g class="n-v" transform="translate(1254.6 294.76)"><path d="M-9.8 -4.9H8.4V0.6H2.4V6.8H-3.3V0.6H-9.8Z" fill="#d9d3f8"/></g>
<g class="n-v" transform="translate(1354.1 294.76)"><path d="M-9.8 -4.9H8.4V0.6H2.4V6.8H-3.3V0.6H-9.8Z" fill="#d9d3f8"/></g>
<g class="n-v" transform="translate(1453.6 294.76)"><path d="M-9.8 -4.9H8.4V0.6H2.4V6.8H-3.3V0.6H-9.8Z" fill="#d9d3f8"/></g>
<g class="n-v" transform="translate(1553.11 294.76)"><path d="M-9.8 -4.9H8.4V0.6H2.4V6.8H-3.3V0.6H-9.8Z" fill="#d9d3f8"/></g>
<g class="n-v" transform="translate(582.94 394.26)"><path d="M-9.8 -4.9H8.4V0.6H2.4V6.8H-3.3V0.6H-9.8Z" fill="#d9d3f8"/></g>
<g class="n-v" transform="translate(732.2 394.26)"><path d="M-9.8 -4.9H8.4V0.6H2.4V6.8H-3.3V0.6H-9.8Z" fill="#d9d3f8"/></g>
<g class="n-v" transform="translate(881.46 394.26)"><path d="M-9.8 -4.9H8.4V0.6H2.4V6.8H-3.3V0.6H-9.8Z" fill="#d9d3f8"/></g>
<g class="n-v" transform="translate(1005.84 394.26)"><path d="M-9.8 -4.9H8.4V0.6H2.4V6.8H-3.3V0.6H-9.8Z" fill="#d9d3f8"/></g>
<g class="n-v" transform="translate(1080.46 394.26)"><path d="M-9.8 -4.9H8.4V0.6H2.4V6.8H-3.3V0.6H-9.8Z" fill="#d9d3f8"/></g>
<g class="n-v" transform="translate(1155.09 419.14)"><path d="M-9.8 -4.9H8.4V0.6H2.4V6.8H-3.3V0.6H-9.8Z" fill="#d9d3f8"/></g>
<g class="n-v" transform="translate(1254.6 419.14)"><path d="M-9.8 -4.9H8.4V0.6H2.4V6.8H-3.3V0.6H-9.8Z" fill="#d9d3f8"/></g>
<g class="n-v" transform="translate(1354.1 419.14)"><path d="M-9.8 -4.9H8.4V0.6H2.4V6.8H-3.3V0.6H-9.8Z" fill="#d9d3f8"/></g>
<g class="n-v" transform="translate(483.44 518.64)"><path d="M-9.8 -4.9H8.4V0.6H2.4V6.8H-3.3V0.6H-9.8Z" fill="#d9d3f8"/></g>
<g class="n-v" transform="translate(856.58 518.64)"><path d="M-9.8 -4.9H8.4V0.6H2.4V6.8H-3.3V0.6H-9.8Z" fill="#d9d3f8"/></g>
<g class="n-v" transform="translate(980.96 518.64)"><path d="M-9.8 -4.9H8.4V0.6H2.4V6.8H-3.3V0.6H-9.8Z" fill="#d9d3f8"/></g>
<g class="n-v" transform="translate(1105.34 518.64)"><path d="M-9.8 -4.9H8.4V0.6H2.4V6.8H-3.3V0.6H-9.8Z" fill="#d9d3f8"/></g>
<g class="n-w" transform="translate(1254.6 518.64)"><ellipse cx="-0.2" cy="8.5" rx="30.2" ry="13.5" fill="none" stroke="#1b78e2" stroke-width="2"/><ellipse cx="0.4" cy="7.8" rx="21.2" ry="10" fill="none" stroke="#164f9e" stroke-width="1.8"/><path d="M-18.8 -14.2L-0.2 -7.1L-0.2 13.5L-18.3 4.4Z" fill="url(#gw1)"/><path d="M-0.2 -7.1L19.3 -15L19.3 3.6L-0.2 13.5Z" fill="url(#gw2)"/><path d="M1.4 -22.9L19.3 -15L-0.2 -7.1L-18.8 -14.2Z" fill="#3f92f6" stroke="#7fbcff" stroke-width="0.9" stroke-linejoin="round"/><path d="M1 -19.6L11.6 -15L0.2 -10.6L-10.6 -14.6Z" fill="#8fc6ff"/><path d="M0.9 -18.3L8.6 -15L0.4 -11.8L-7.4 -14.7Z" fill="#f2fcff"/></g>
<g class="n-v" transform="translate(1354.1 593.27)"><path d="M-9.8 -4.9H8.4V0.6H2.4V6.8H-3.3V0.6H-9.8Z" fill="#d9d3f8"/></g>
<g class="n-v" transform="translate(110.3 643.02)"><path d="M-9.8 -4.9H8.4V0.6H2.4V6.8H-3.3V0.6H-9.8Z" fill="#d9d3f8"/></g>
<g class="n-v" transform="translate(234.68 643.02)"><path d="M-9.8 -4.9H8.4V0.6H2.4V6.8H-3.3V0.6H-9.8Z" fill="#d9d3f8"/></g>
<g class="n-v" transform="translate(359.06 643.02)"><path d="M-9.8 -4.9H8.4V0.6H2.4V6.8H-3.3V0.6H-9.8Z" fill="#d9d3f8"/></g>
<g class="n-v" transform="translate(483.44 643.02)"><path d="M-9.8 -4.9H8.4V0.6H2.4V6.8H-3.3V0.6H-9.8Z" fill="#d9d3f8"/></g>
<g class="n-v" transform="translate(607.82 643.02)"><path d="M-9.8 -4.9H8.4V0.6H2.4V6.8H-3.3V0.6H-9.8Z" fill="#d9d3f8"/></g>
<g class="n-v" transform="translate(732.2 643.02)"><path d="M-9.8 -4.9H8.4V0.6H2.4V6.8H-3.3V0.6H-9.8Z" fill="#d9d3f8"/></g>
<g class="n-v" transform="translate(856.58 643.02)"><path d="M-9.8 -4.9H8.4V0.6H2.4V6.8H-3.3V0.6H-9.8Z" fill="#d9d3f8"/></g>
<g class="n-v" transform="translate(1130.22 667.9)"><path d="M-9.8 -4.9H8.4V0.6H2.4V6.8H-3.3V0.6H-9.8Z" fill="#d9d3f8"/></g>
<g class="n-f" transform="translate(1254.6 667.9)"><ellipse cx="-0.9" cy="18.4" rx="26.2" ry="9" fill="#1239b6"/><path d="M-27.1 18.4A26.2 9 0 0 0 25.3 18.4" fill="none" stroke="#4aa2f0" stroke-width="1.3"/><ellipse cx="-0.2" cy="20.5" rx="34.5" ry="10.9" fill="none" stroke="#42bef5" stroke-width="3.7"/><path d="M7.4 -9.6L24 -3.8V16L7.4 20.5Z" fill="url(#gt3)"/><path d="M7.4 -9.6L24 -3.8V7L7.4 3Z" fill="url(#stripe2)"/><path d="M-23.4 -27L0 -22.2V24L-10 24.5L-23.4 17Z" fill="url(#gt1)"/><path d="M0 -22.2L7.6 -30.2V19L0 24Z" fill="url(#gt2)"/><path d="M-23.4 -27L0 -22.2V10L-23.4 5Z" fill="url(#stripe)"/><path d="M0 -22.2L7.6 -30.2V4L0 10Z" fill="url(#stripe)" opacity="0.7"/><path d="M-22.4 -27.2L-14.8 -34.2L6.8 -30.3L0 -22.4Z" fill="#3597f2" stroke="#92ecff" stroke-width="2" stroke-linejoin="round"/><path d="M-23 -27V0" stroke="#7fe0ff" stroke-width="1" opacity="0.75" fill="none"/><path d="M-0.2 -22V6" stroke="#7fd8ff" stroke-width="1.4" opacity="0.5" fill="none"/><path d="M-16 11.5L-4.8 10.4L-3.2 13.1L-9.6 19.4L-16.5 17.8Z" fill="#0d2a8e"/><circle cx="-12.8" cy="6.7" r="1.5" fill="#5fb0ff"/><circle cx="-21.3" cy="15.2" r="1.5" fill="#5fb0ff"/><circle cx="-2.7" cy="18.4" r="1.5" fill="#5fb0ff"/><circle cx="3.6" cy="10.2" r="1.5" fill="#5fb0ff"/><circle cx="6.3" cy="13.6" r="0.9" fill="#8fc44a"/></g>
<g class="n-v" transform="translate(1378.98 667.9)"><path d="M-9.8 -4.9H8.4V0.6H2.4V6.8H-3.3V0.6H-9.8Z" fill="#d9d3f8"/></g>
<g class="n-v" transform="translate(1478.48 667.9)"><path d="M-9.8 -4.9H8.4V0.6H2.4V6.8H-3.3V0.6H-9.8Z" fill="#d9d3f8"/></g>
<g class="n-v" transform="translate(1577.98 667.9)"><path d="M-9.8 -4.9H8.4V0.6H2.4V6.8H-3.3V0.6H-9.8Z" fill="#d9d3f8"/></g>
<g class="n-v" transform="translate(234.68 792.28)"><path d="M-9.8 -4.9H8.4V0.6H2.4V6.8H-3.3V0.6H-9.8Z" fill="#d9d3f8"/></g>
<g class="n-v" transform="translate(408.81 792.28)"><path d="M-9.8 -4.9H8.4V0.6H2.4V6.8H-3.3V0.6H-9.8Z" fill="#d9d3f8"/></g>
<g class="n-v" transform="translate(533.19 792.28)"><path d="M-9.8 -4.9H8.4V0.6H2.4V6.8H-3.3V0.6H-9.8Z" fill="#d9d3f8"/></g>
<g class="n-v" transform="translate(657.57 792.28)"><path d="M-9.8 -4.9H8.4V0.6H2.4V6.8H-3.3V0.6H-9.8Z" fill="#d9d3f8"/></g>
<g class="n-v" transform="translate(781.95 792.28)"><path d="M-9.8 -4.9H8.4V0.6H2.4V6.8H-3.3V0.6H-9.8Z" fill="#d9d3f8"/></g>
<g class="n-v" transform="translate(956.08 792.28)"><path d="M-9.8 -4.9H8.4V0.6H2.4V6.8H-3.3V0.6H-9.8Z" fill="#d9d3f8"/></g>
<g class="n-v" transform="translate(1254.6 792.28)"><path d="M-9.8 -4.9H8.4V0.6H2.4V6.8H-3.3V0.6H-9.8Z" fill="#d9d3f8"/></g>
<g class="n-v" transform="translate(1478.48 792.28)"><path d="M-9.8 -4.9H8.4V0.6H2.4V6.8H-3.3V0.6H-9.8Z" fill="#d9d3f8"/></g>
</g>
<g id="labels" transform="scale(1.04 0.875)">
<text x="562.45" y="92.23" text-anchor="middle">两河口阀</text>
<text x="682.04" y="112.8" text-anchor="middle">冷水浠水池</text>
<text x="682.04" y="134.29" text-anchor="middle"><tspan class="l">(</tspan>水位：<tspan class="l">17m)</tspan></text>
<text x="740.75" y="118.74"><tspan class="k">名称：</tspan> <tspan x="785.85">白岩山水厂</tspan></text>
<text x="740.75" y="140.23"><tspan class="k">水质：</tspan> <tspan x="785.85">合格</tspan></text>
<text x="740.75" y="161.71"><tspan class="k">出口流量：</tspan> <tspan x="814.21"><tspan class="l">115m³/s</tspan></tspan></text>
<text x="740.75" y="183.2"><tspan class="k">泵站开机数<tspan class="s" dx="0.9">/</tspan>总数：</tspan> <tspan x="861.13"><tspan class="l">12/20</tspan>台</tspan></text>
<text x="969.07" y="92.23" text-anchor="middle">施南坡阀</text>
<text x="1112.59" y="92.23" text-anchor="middle">陈家坳阀</text>
<text x="179.74" y="120.8" text-anchor="middle">龙桥阀</text>
<text x="275.42" y="120.8" text-anchor="middle">柏杨阀</text>
<text x="371.09" y="120.8" text-anchor="middle">张家界阀</text>
<text x="466.77" y="120.8" text-anchor="middle">狮子梁阀</text>
<text x="562.45" y="206.51" text-anchor="middle">茅园坡阀</text>
<text x="1112.59" y="235.09" text-anchor="middle">中坝阀</text>
<text x="418.93" y="253.37" text-anchor="middle">备用提水泵</text>
<text x="873.4" y="263.66" text-anchor="middle">大河镇阀</text>
<text x="969.07" y="263.66" text-anchor="middle">观音桥阀</text>
<text x="1064.75" y="263.66" text-anchor="middle">竹山阀</text>
<text x="1208.27" y="263.66" text-anchor="middle">小坳村阀</text>
<text x="1303.94" y="292.23" text-anchor="middle">卡房坳阀</text>
<text x="275.42" y="381.37" text-anchor="middle">提水泵</text>
<text x="334.12" y="402.17"><tspan class="k">名称：</tspan> <tspan x="379.22">茅杆洞水厂</tspan></text>
<text x="334.12" y="423.66"><tspan class="k">水质：</tspan> <tspan x="379.22">合格</tspan></text>
<text x="334.12" y="445.14"><tspan class="k">出口流量：</tspan> <tspan x="407.58"><tspan class="l">296m³/s</tspan></tspan></text>
<text x="334.12" y="466.63"><tspan class="k">泵站开机数<tspan class="s" dx="0.9">/</tspan>总数：</tspan> <tspan x="454.51"><tspan class="l">12/20</tspan>台</tspan></text>
<text x="562.45" y="381.37" text-anchor="middle"><tspan class="l">1#</tspan>级提升泵</text>
<text x="705.96" y="381.37" text-anchor="middle"><tspan class="l">2#</tspan>级提升泵</text>
<text x="825.56" y="381.37" text-anchor="middle"><tspan class="l">3#</tspan>级提升泵</text>
<text x="969.07" y="381.37" text-anchor="middle"><tspan class="l">4#</tspan>级提升泵</text>
<text x="1112.59" y="396.23" text-anchor="middle">大坪水池</text>
<text x="1112.59" y="417.71" text-anchor="middle"><tspan class="l">(</tspan>水位：<tspan class="l">20m)</tspan></text>
<text x="1208.27" y="376.8" text-anchor="middle">膳鱼洞阀</text>
<text x="1303.94" y="376.8" text-anchor="middle">岩蜂窝村阀</text>
<text x="1399.62" y="376.8" text-anchor="middle">螺狮塘阀</text>
<text x="1495.3" y="376.8" text-anchor="middle">安家坪阀</text>
<text x="562.45" y="491.09" text-anchor="middle">洞塘坎阀</text>
<text x="705.96" y="491.09" text-anchor="middle">安抚司阀</text>
<text x="849.48" y="491.09" text-anchor="middle">木车坝阀</text>
<text x="969.07" y="491.09" text-anchor="middle">新才沟阀</text>
<text x="1040.83" y="491.09" text-anchor="middle">高洞阀</text>
<text x="1112.59" y="519.66" text-anchor="middle">大堰塘阀</text>
<text x="1208.27" y="519.66" text-anchor="middle">拦马山阀</text>
<text x="1303.94" y="519.66" text-anchor="middle">沙子田阀</text>
<text x="466.77" y="632.8" text-anchor="middle">赵家坡阀</text>
<text x="825.56" y="632.8" text-anchor="middle">却道河阀</text>
<text x="945.15" y="632.8" text-anchor="middle">廖家坝阀</text>
<text x="1064.75" y="632.8" text-anchor="middle">虎头落阀</text>
<text x="1208.27" y="652.23" text-anchor="middle">兴隆坳高位水池</text>
<text x="1208.27" y="673.71" text-anchor="middle"><tspan class="l">(</tspan>水位：<tspan class="l">8m)</tspan></text>
<text x="1303.94" y="718.51" text-anchor="middle">鱼塘阀</text>
<text x="107.98" y="774.51" text-anchor="middle">苏家坪阀</text>
<text x="227.58" y="774.51" text-anchor="middle">漫水乡（百福司镇）阀</text>
<text x="347.17" y="774.51" text-anchor="middle">新拱桥阀</text>
<text x="466.77" y="774.51" text-anchor="middle">南河阀</text>
<text x="586.37" y="774.51" text-anchor="middle">百福司镇阀</text>
<text x="705.96" y="774.51" text-anchor="middle">沙道弯阀</text>
<text x="825.56" y="774.51" text-anchor="middle">安家堡阀</text>
<text x="1088.67" y="803.09" text-anchor="middle">廖家沟阀</text>
<text x="1123.46" y="829.6"><tspan class="k">名称：</tspan> <tspan x="1168.55">兴隆坳水厂</tspan></text>
<text x="1123.46" y="851.09"><tspan class="k">水质：</tspan> <tspan x="1168.55">合格</tspan></text>
<text x="1123.46" y="872.57"><tspan class="k">出口流量：</tspan> <tspan x="1196.92"><tspan class="l">100m³/s</tspan></tspan></text>
<text x="1123.46" y="894.06"><tspan class="k">泵站开机数<tspan class="s" dx="0.9">/</tspan>总数：</tspan> <tspan x="1243.84"><tspan class="l">12/20</tspan>台</tspan></text>
<text x="1327.86" y="803.09" text-anchor="middle">黑湾阀</text>
<text x="1423.54" y="803.09" text-anchor="middle">新寨阀</text>
<text x="1519.22" y="803.09" text-anchor="middle">社里坝阀</text>
<text x="227.58" y="945.94" text-anchor="middle">龙凤坎阀</text>
<text x="395.01" y="945.94" text-anchor="middle">枣木垭阀</text>
<text x="514.61" y="945.94" text-anchor="middle">胡家坎阀</text>
<text x="634.2" y="945.94" text-anchor="middle">荆竹堡阀</text>
<text x="753.8" y="945.94" text-anchor="middle">可洞村阀</text>
<text x="921.23" y="945.94" text-anchor="middle">龟塘阀</text>
<text x="1208.27" y="945.94" text-anchor="middle">沙子田（兴隆坳）阀</text>
<text x="1423.54" y="945.94" text-anchor="middle">沙子坡阀</text>
</g>
</svg>
<div class="legend" style="top:10px"><i style="background:#3f8fd6"></i><span>正常</span></div>
<div class="legend" style="top:31px"><i style="background:#c72828"></i><span>异常</span></div>
<div id="qlabel">快速查找<span style="margin-left:1.2px;font-size:18px;-webkit-text-stroke:0.8px #ffffb4;position:relative;top:0.5px">:</span></div>
<div id="qsel">快速查找<svg width="12" height="12" viewBox="0 0 12 12"><path d="M1.2 3.4L6 8.6L10.8 3.4" fill="none" stroke="#bfbfbf" stroke-width="1.1"/></svg></div>
</body></html>
